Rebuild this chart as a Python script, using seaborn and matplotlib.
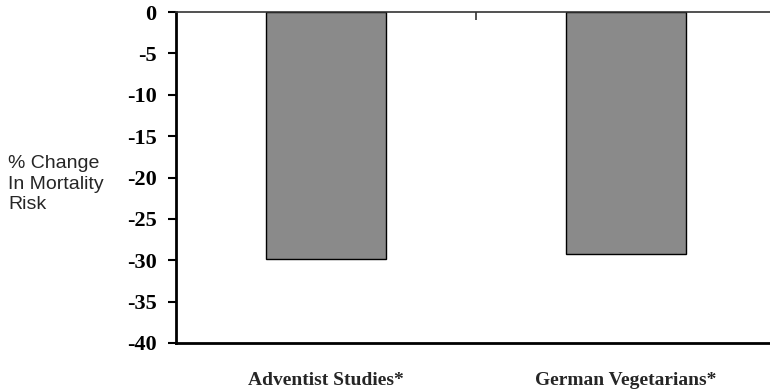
import matplotlib
matplotlib.use("Agg")
import matplotlib.pyplot as plt
import seaborn as sns
import pandas as pd

studies = ["Adventist Studies*", "German Vegetarians*"]
change = [-29.8, -29.2]
y_ticks = [0, -5, -10, -15, -20, -25, -30, -35, -40]

sns.set_style("white")
plt.rcParams["font.family"] = ["Liberation Serif", "DejaVu Serif"]

df = pd.DataFrame({"study": studies, "change": change})

fig = plt.figure(figsize=(7.7, 3.92), dpi=100)
ax = fig.add_axes([176 / 770, 49 / 392, 600 / 770, 331 / 392])

sns.barplot(data=df, x="study", y="change", color="#8a8a8a", saturation=1,
            width=0.4, edgecolor="black", linewidth=1, ax=ax)

ax.set_xlim(-0.5, 1.5)
ax.set_ylim(-40, 0)
ax.set_yticks(y_ticks)
ax.set_yticklabels([str(t) for t in y_ticks], fontsize=16, fontweight="bold")
ax.set_xticks([0, 1])
ax.set_xticklabels(studies, fontsize=14, fontweight="bold")
ax.set_xlabel("")
ax.set_ylabel("")

# category axis sits at y = 0 (top), one divider tick between the bars
ax.set_xticks([0.5], minor=True)
ax.tick_params(axis="x", which="major", length=0, pad=21)
ax.tick_params(axis="x", which="minor", top=True, bottom=False,
               direction="in", length=6, width=1.2, color="#333333")
ax.tick_params(axis="y", left=True, direction="out", length=6, width=1.5,
               pad=8, colors="black")

ax.spines["right"].set_visible(False)
ax.spines["top"].set_color("#333333")
ax.spines["top"].set_linewidth(1.2)
ax.spines["left"].set_linewidth(2)
ax.spines["left"].set_color("black")
ax.spines["bottom"].set_linewidth(2)
ax.spines["bottom"].set_color("black")

fig.text(8 / 770, 1 - 184 / 392, "% Change\nIn Mortality\nRisk",
         family=["Liberation Sans", "DejaVu Sans"], fontsize=14,
         ha="left", va="center", linespacing=1.28)

fig.savefig("out.png", dpi=100)
